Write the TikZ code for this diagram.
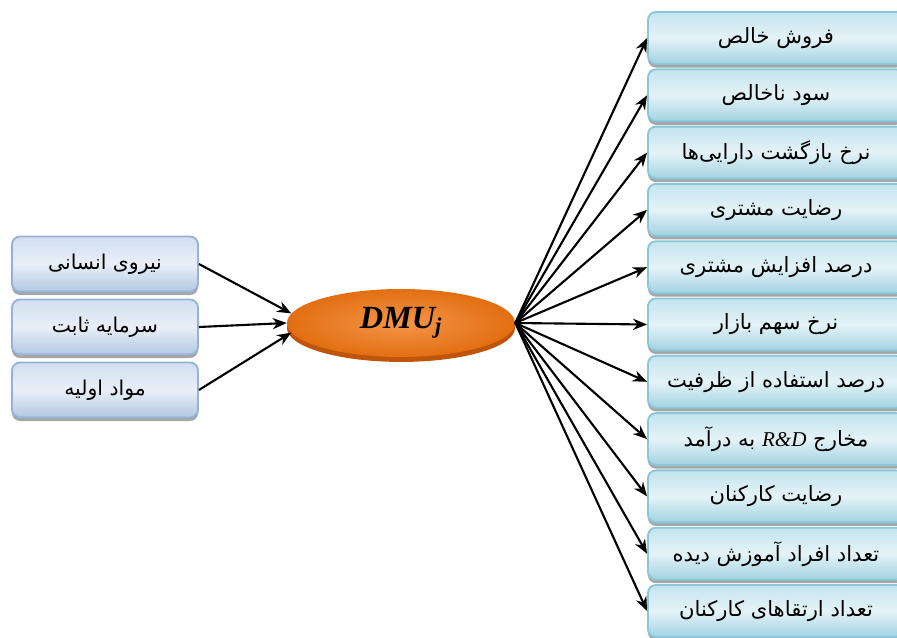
\documentclass[tikz,border=0pt]{standalone}
\usepackage{fontspec}
\setmainfont{Liberation Serif}
\newfontfamily\farsi[Script=Arabic]{DejaVu Sans}
\TeXXeTstate=1
\usetikzlibrary{arrows.meta,shapes.geometric,shadows,positioning}

\definecolor{inline}{RGB}{149,179,215}
\definecolor{intop}{RGB}{210,223,240}
\definecolor{inbot}{RGB}{178,200,226}
\definecolor{outline}{RGB}{135,199,216}
\definecolor{outtop}{RGB}{196,228,238}
\definecolor{outbot}{RGB}{162,210,225}
\definecolor{dmuin}{RGB}{244,150,72}
\definecolor{dmuout}{RGB}{226,110,18}
\definecolor{dmushade}{RGB}{190,85,10}

\begin{document}
\begin{tikzpicture}[x=0.025cm, y=-0.025cm]
    \tikzset{inbox/.style={draw=inline, line width=1.3pt, rounded corners=0.2cm,
        top color=intop, bottom color=inbot, middle color=intop!50!white,
        minimum width=4.65cm, minimum height=1.375cm,
        drop shadow={shadow xshift=0pt, shadow yshift=-2.5pt, fill=gray!70, opacity=1},
        font=\farsi\fontsize{14.5}{17}\selectfont},
      outbox/.style={inbox, draw=outline, top color=outtop, bottom color=outbot,
        middle color=outtop!45!white, minimum width=6.4cm, minimum height=1.3cm,
        font=\farsi\fontsize{15}{18}\selectfont},
      link/.style={-{Stealth[length=10pt,width=8pt]}, line width=1.5pt}}
    \clip (0,0) rectangle (897,638);
    \node[ellipse, minimum width=5.7cm, minimum height=1.7cm, inner color=dmuin, outer color=dmuout,
      drop shadow={shadow xshift=0pt, shadow yshift=-3.5pt, fill=dmushade, opacity=1}]
      (dmu) at (401,323) {\fontsize{23}{26}\selectfont\bfseries\itshape DMU\textsubscript{j}};
    % inputs
    \node[inbox] (in1) at (105,264) {\beginR نیروی انسانی\endR};
    \node[inbox] (in2) at (105,327) {\beginR سرمایه ثابت\endR};
    \node[inbox] (in3) at (105,390) {\beginR مواد اولیه\endR};
    \draw[link] (in1.east) -- (dmu.175);
    \draw[link] (in2.east) -- (dmu.west);
    \draw[link] (in3.east) -- (dmu.185);
    % outputs
    \foreach \lbl [count=\i] in {فروش خالص, سود ناخالص, نرخ بازگشت دارایی‌ها, رضایت مشتری,
        درصد افزایش مشتری, نرخ سهم بازار, درصد استفاده از ظرفیت,
        {مخارج \beginL{\rmfamily\itshape R\&D}\endL{} به درآمد}, رضایت کارکنان,
        تعداد افراد آموزش دیده, تعداد ارتقاهای کارکنان}
    {
      \node[outbox] (out\i) at (776,{38+57.3*(\i-1)}) {\beginR \lbl\endR};
      \draw[link] (dmu.east) -- (out\i.west);
    }
\end{tikzpicture}
\end{document}
